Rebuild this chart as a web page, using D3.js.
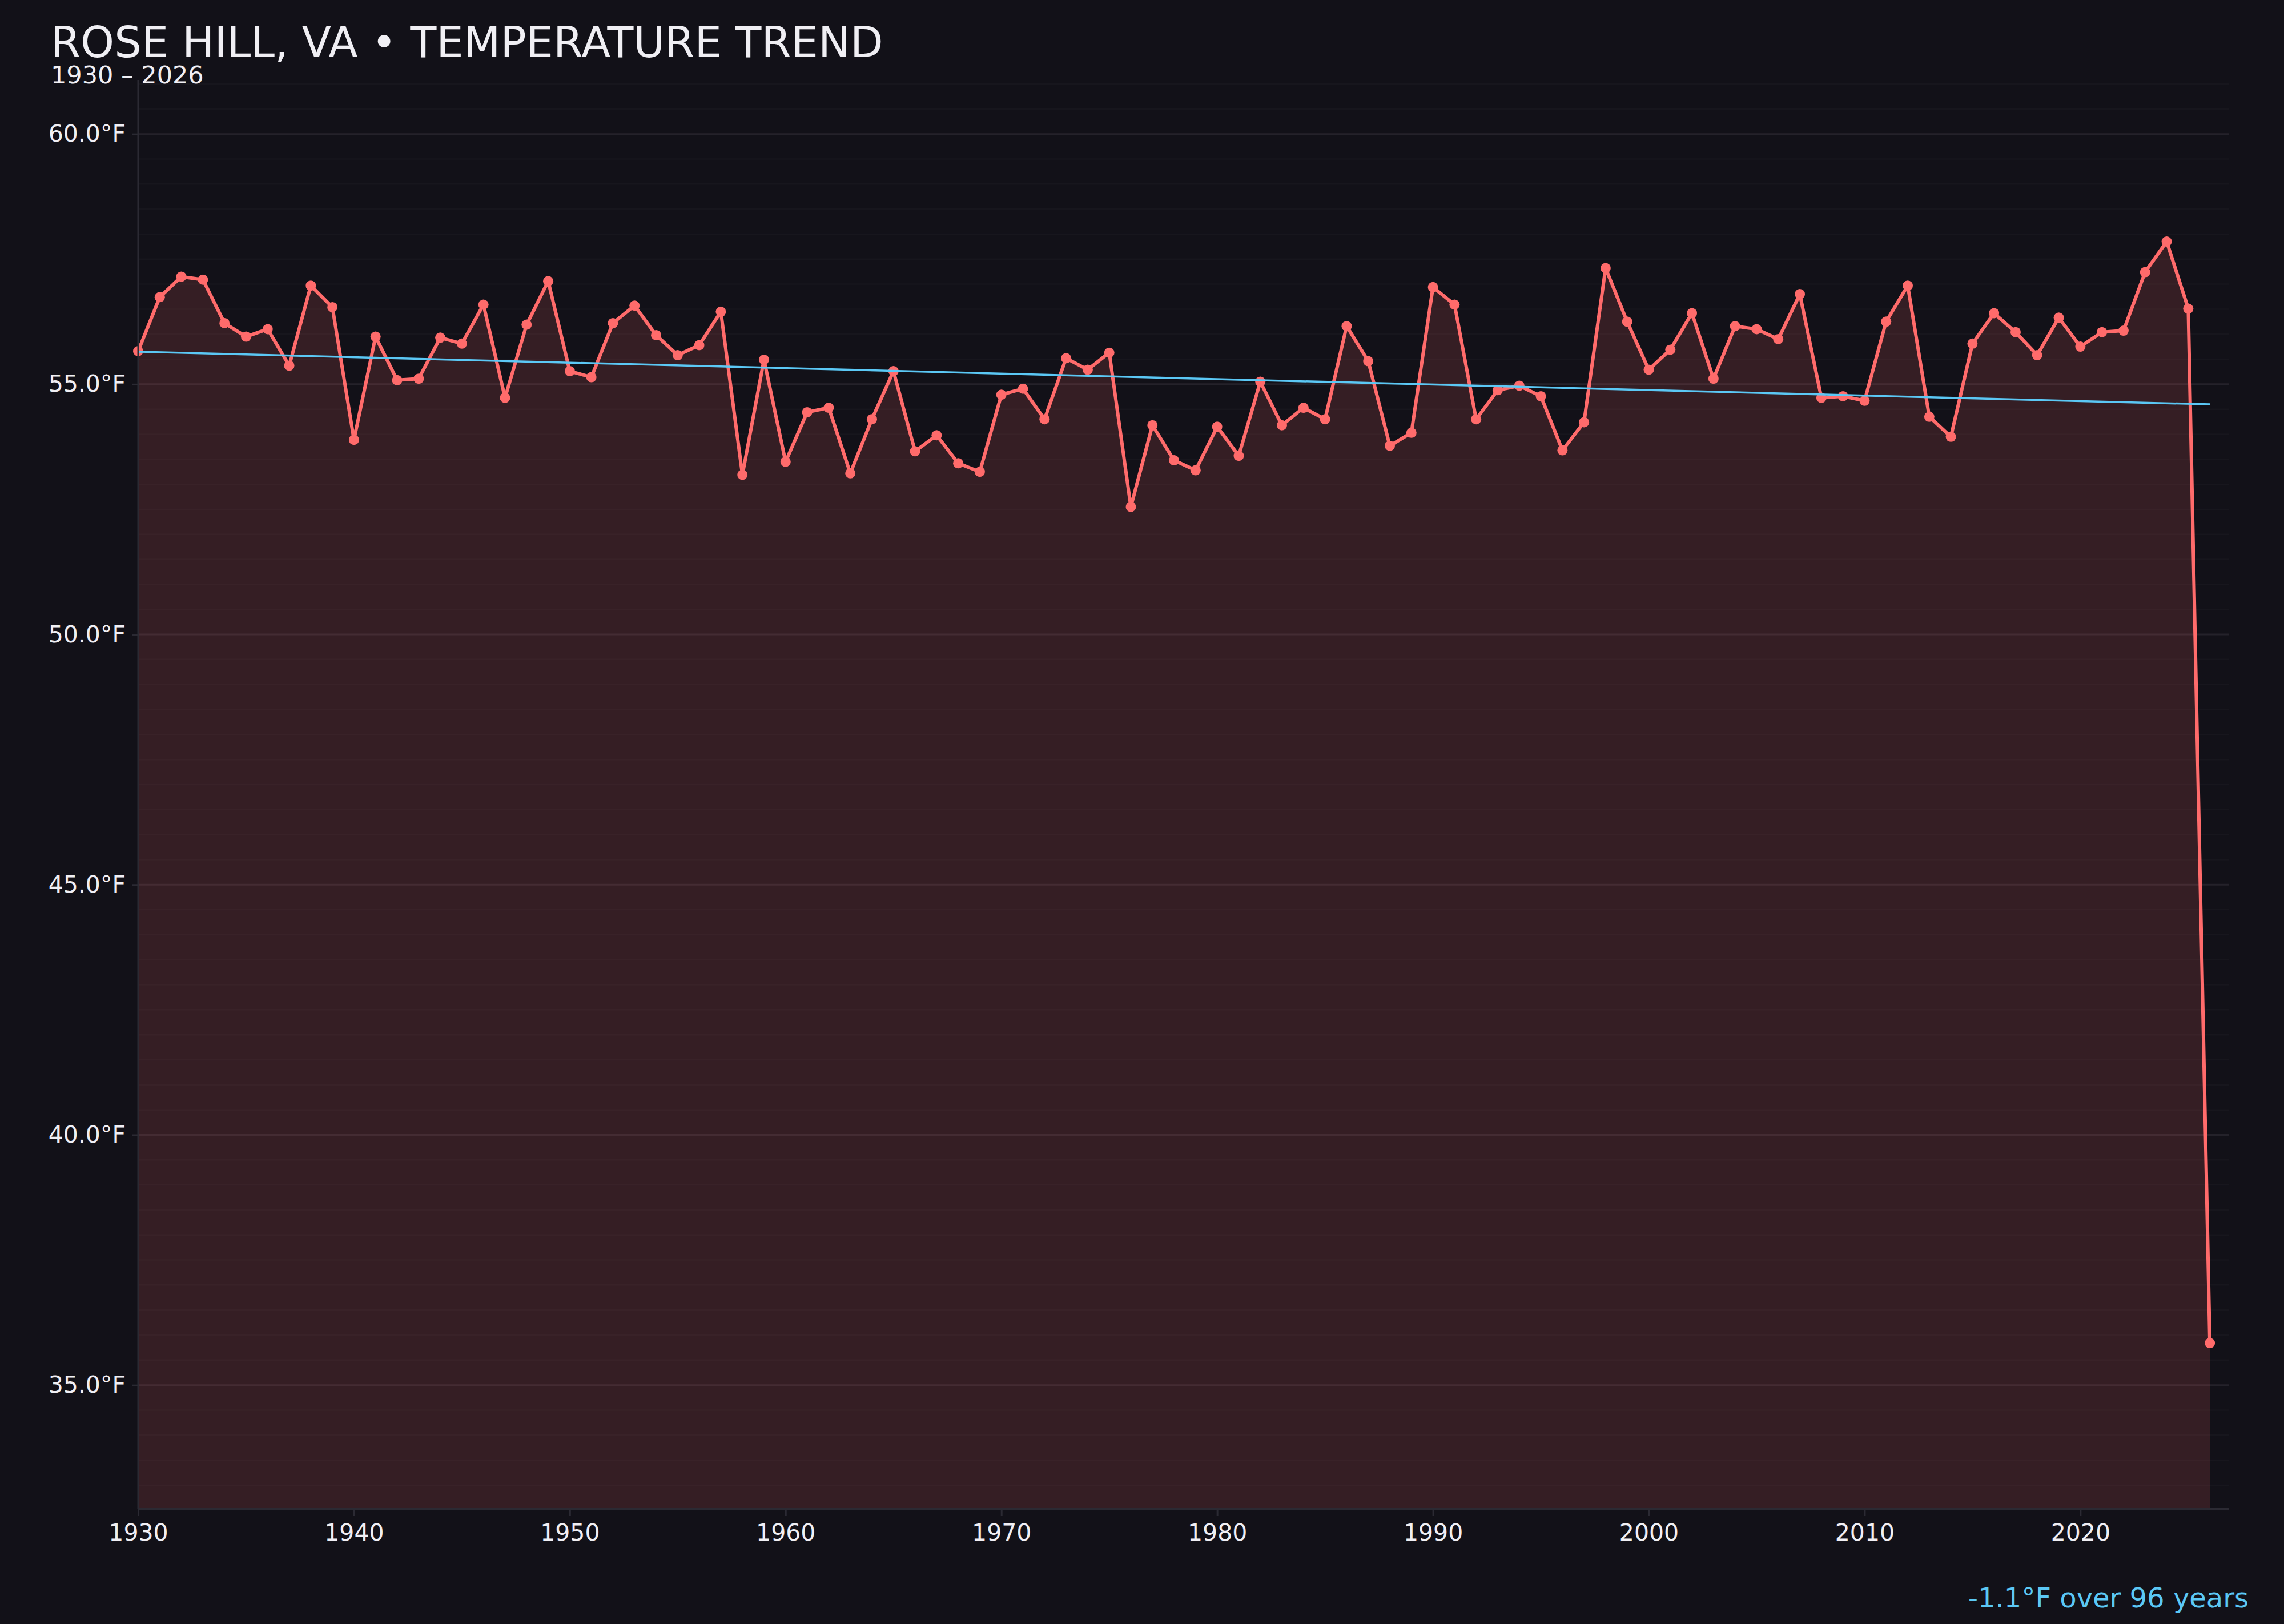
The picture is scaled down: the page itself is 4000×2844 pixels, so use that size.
<!DOCTYPE html>
<html>
<head>
<meta charset="utf-8">
<script src="https://cdn.jsdelivr.net/npm/d3@7"></script>
<style>
  html, body { margin: 0; padding: 0; background: #121118; }
  svg text { font-family: "DejaVu Sans", sans-serif; }
</style>
</head>
<body>
<div class="chart-wrapper"></div>
<script>
// yearly mean temperature
const years = [
  1930, 1931, 1932, 1933, 1934, 1935, 1936, 1937, 1938, 1939,
  1940, 1941, 1942, 1943, 1944, 1945, 1946, 1947, 1948, 1949,
  1950, 1951, 1952, 1953, 1954, 1955, 1956, 1957, 1958, 1959,
  1960, 1961, 1962, 1963, 1964, 1965, 1966, 1967, 1968, 1969,
  1970, 1971, 1972, 1973, 1974, 1975, 1976, 1977, 1978, 1979,
  1980, 1981, 1982, 1983, 1984, 1985, 1986, 1987, 1988, 1989,
  1990, 1991, 1992, 1993, 1994, 1995, 1996, 1997, 1998, 1999,
  2000, 2001, 2002, 2003, 2004, 2005, 2006, 2007, 2008, 2009,
  2010, 2011, 2012, 2013, 2014, 2015, 2016, 2017, 2018, 2019,
  2020, 2021, 2022, 2023, 2024, 2025, 2026
]
const temps = [
  55.66, 56.74, 57.15, 57.09, 56.22, 55.95, 56.10, 55.37, 56.97, 56.54,
  53.89, 55.95, 55.08, 55.11, 55.93, 55.81, 56.59, 54.73, 56.19, 57.06,
  55.26, 55.14, 56.22, 56.57, 55.98, 55.58, 55.78, 56.45, 53.19, 55.49,
  53.45, 54.44, 54.53, 53.22, 54.30, 55.26, 53.66, 53.98, 53.42, 53.25,
  54.79, 54.91, 54.30, 55.52, 55.29, 55.63, 52.55, 54.18, 53.48, 53.28,
  54.15, 53.57, 55.05, 54.18, 54.53, 54.30, 56.16, 55.46, 53.77, 54.03,
  56.94, 56.59, 54.30, 54.88, 54.97, 54.76, 53.68, 54.24, 57.32, 56.25,
  55.29, 55.69, 56.42, 55.11, 56.16, 56.10, 55.90, 56.80, 54.73, 54.76,
  54.67, 56.25, 56.97, 54.35, 53.95, 55.81, 56.42, 56.04, 55.58, 56.33,
  55.75, 56.04, 56.07, 57.24, 57.85, 56.51, 35.84
]
const yTicks = [35, 40, 45, 50, 55, 60]
const xTicks = [1930, 1940, 1950, 1960, 1970, 1980, 1990, 2000, 2010, 2020]
const title = 'ROSE HILL, VA \u2022 TEMPERATURE TREND'
const subtitle = '1930 \u2013 2026'

const width = 4000
const height = 2844
const plot = {left: 242, right: 3903, top: 140, bottom: 2643}

const bg = '#121118'
const lineColor = '#ff6b6b'
const trendColor = '#5bc8f5'
const textColor = '#f0eff4'
const axisColor = '#2b2a33'

let svg = d3.select('.chart-wrapper').append('svg')
    .attr('width', width)
    .attr('height', height)

svg.append('rect')
    .attr('width', width)
    .attr('height', height)
    .attr('fill', bg)

let x = d3.scaleLinear()
    .domain([1930, 2026.87])
    .range([plot.left, plot.right])

let y = d3.scaleLinear()
    .domain([32.52, 61.08])
    .range([plot.bottom, plot.top])

let data = years.map((yr, i) => ({year: yr, temp: temps[i]}))

// faint half-degree grid, then the major ticks
svg.append('g')
    .selectAll('line')
    .data(d3.range(33, 61.01, 0.5))
    .enter()
    .append('line')
    .attr('x1', plot.left)
    .attr('x2', plot.right)
    .attr('y1', d => y(d))
    .attr('y2', d => y(d))
    .attr('stroke', '#17161d')
    .attr('stroke-width', 2.5)

svg.append('g')
    .selectAll('line')
    .data(yTicks)
    .enter()
    .append('line')
    .attr('x1', plot.left)
    .attr('x2', plot.right)
    .attr('y1', d => y(d))
    .attr('y2', d => y(d))
    .attr('stroke', '#24222a')
    .attr('stroke-width', 3)

// area under the line
let area = d3.area()
    .x(d => x(d.year))
    .y0(plot.bottom)
    .y1(d => y(d.temp))

svg.append('path')
    .datum(data)
    .attr('d', area)
    .attr('fill', lineColor)
    .attr('fill-opacity', 0.15)

let line = d3.line()
    .x(d => x(d.year))
    .y(d => y(d.temp))

svg.append('path')
    .datum(data)
    .attr('d', line)
    .attr('fill', 'none')
    .attr('stroke', lineColor)
    .attr('stroke-width', 6)
    .attr('stroke-linejoin', 'round')

svg.append('g')
    .selectAll('circle')
    .data(data)
    .enter()
    .append('circle')
    .attr('cx', d => x(d.year))
    .attr('cy', d => y(d.temp))
    .attr('r', 9)
    .attr('fill', lineColor)

// least squares trend
let mx = d3.mean(years)
let my = d3.mean(temps)
let sxy = d3.sum(data, d => (d.year - mx) * (d.temp - my))
let sxx = d3.sum(data, d => (d.year - mx) * (d.year - mx))
let slope = sxy / sxx
let icpt = my - slope * mx
let first = years[0]
let last = years[years.length - 1]

svg.append('line')
    .attr('x1', x(first))
    .attr('y1', y(icpt + slope * first))
    .attr('x2', x(last))
    .attr('y2', y(icpt + slope * last))
    .attr('stroke', trendColor)
    .attr('stroke-width', 3.5)

// axes
let yAxis = d3.axisLeft(y)
    .tickValues(yTicks)
    .tickFormat(d => d.toFixed(1) + '\u00b0F')
    .tickSize(10)
    .tickPadding(12)

let gy = svg.append('g')
    .attr('transform', `translate(${plot.left},0)`)
    .call(yAxis)

let xAxis = d3.axisBottom(x)
    .tickValues(xTicks)
    .tickFormat(d3.format('d'))
    .tickSize(12)
    .tickPadding(14)

let gx = svg.append('g')
    .attr('transform', `translate(0,${plot.bottom})`)
    .call(xAxis)

svg.selectAll('.domain').remove()
svg.selectAll('.tick line').attr('stroke', axisColor).attr('stroke-width', 3)
svg.selectAll('.tick text')
    .attr('fill', textColor)
    .style('font-size', '41px')
    .style('font-family', '"DejaVu Sans", sans-serif')

svg.append('line')
    .attr('x1', plot.left).attr('x2', plot.left)
    .attr('y1', plot.top).attr('y2', plot.bottom)
    .attr('stroke', axisColor)
    .attr('stroke-width', 3)

svg.append('line')
    .attr('x1', plot.left).attr('x2', plot.right)
    .attr('y1', plot.bottom).attr('y2', plot.bottom)
    .attr('stroke', axisColor)
    .attr('stroke-width', 4)

// titles
svg.append('text')
    .attr('x', 89)
    .attr('y', 100)
    .attr('fill', textColor)
    .style('font-size', '75px')
    .text(title)

svg.append('text')
    .attr('x', 89)
    .attr('y', 146)
    .attr('fill', textColor)
    .style('font-size', '43px')
    .text(subtitle)

let change = slope * (last - first)
svg.append('text')
    .attr('x', 3938)
    .attr('y', 2815)
    .attr('text-anchor', 'end')
    .attr('fill', trendColor)
    .style('font-size', '48px')
    .text(`${change.toFixed(1)}\u00b0F over ${last - first} years`)
</script>
</body>
</html>
